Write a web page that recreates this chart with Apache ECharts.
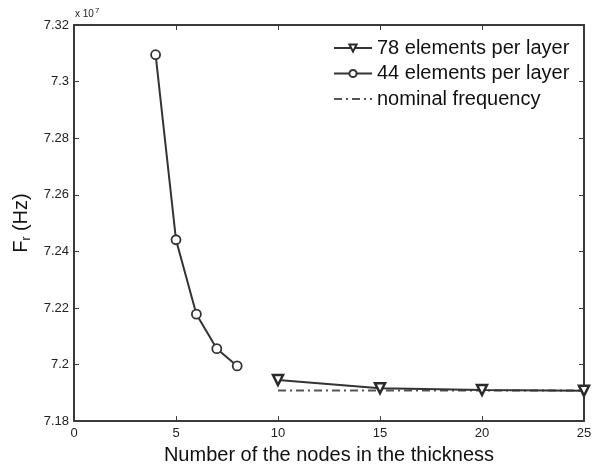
<!DOCTYPE html>
<html>
<head>
<meta charset="utf-8">
<script src="https://cdn.jsdelivr.net/npm/echarts@6/dist/echarts.min.js"></script>
<style>html,body{margin:0;padding:0;background:#fff}#c{width:601px;height:470px}</style>
</head>
<body>
<div id="c"></div>
<script>
// Values in Hz (axis shows them scaled by 1e7)
const nodes78 = [10, 15, 20, 25];
const freq78 = [71945000, 71916000, 71910000, 71907000];
const nodes44 = [4, 5, 6, 7, 8];
const freq44 = [73095000, 72441000, 72178000, 72056000, 71995000];
const nominalNodes = [10, 25];
const nominalFreq = [71908000, 71908000];
const seriesNames = ['78 elements per layer', '44 elements per layer', 'nominal frequency'];
const xTicks = [0, 5, 10, 15, 20, 25];
const yTicks = [7.18, 7.20, 7.22, 7.24, 7.26, 7.28, 7.30, 7.32];
const SCALE = 1e7;

const pair = (xs, ys) => xs.map((x, i) => [x, ys[i]]);
const fmtY = v => String(parseFloat((v / SCALE).toFixed(2)));

const FONT = 'Liberation Sans, Arial, sans-serif';
const AX = '#3a3a3a';
const lbl = { color: '#222', fontSize: 13, fontFamily: FONT };

const chart = echarts.init(document.getElementById('c'), null, { renderer: 'canvas' });
const xBase = { type: 'value', min: xTicks[0], max: xTicks[xTicks.length - 1], interval: 5,
  splitLine: { show: false },
  axisLine: { onZero: false, lineStyle: { color: AX, width: 2 } },
  axisTick: { inside: true, length: 5, lineStyle: { color: AX, width: 1 } } };
const yBase = { type: 'value', min: yTicks[0] * SCALE, max: yTicks[yTicks.length - 1] * SCALE, interval: 0.02 * SCALE,
  splitLine: { show: false },
  axisLine: { onZero: false, lineStyle: { color: AX, width: 2 } },
  axisTick: { inside: true, length: 5, lineStyle: { color: AX, width: 1 } } };

chart.setOption({
  animation: false,
  backgroundColor: '#fff',
  grid: { left: 74, right: 17, top: 25, bottom: 43, containLabel: false },
  xAxis: [
    Object.assign({}, xBase, { position: 'bottom',
      axisLabel: Object.assign({}, lbl, { margin: 6 }),
      name: 'Number of the nodes in the thickness', nameLocation: 'middle', nameGap: 22,
      nameTextStyle: { color: '#111', fontSize: 20, fontFamily: FONT } }),
    Object.assign({}, xBase, { position: 'top', axisLabel: { show: false } })
  ],
  yAxis: [
    Object.assign({}, yBase, { position: 'left',
      axisLabel: Object.assign({}, lbl, { margin: 5, formatter: fmtY }),
      name: '{a|F}{s|r}{a| (Hz)}', nameLocation: 'middle', nameGap: 40, nameRotate: 90,
      nameTextStyle: { color: '#111', fontFamily: FONT,
        rich: { a: { fontSize: 20, fontFamily: FONT, color: '#111' },
                s: { fontSize: 12, fontFamily: FONT, color: '#111', padding: [10, 0, 0, 0] } } } }),
    Object.assign({}, yBase, { position: 'right', axisLabel: { show: false } })
  ],
  legend: {
    orient: 'vertical', left: 328, top: 33, itemWidth: 38, itemHeight: 9, itemGap: 5.5,
    data: [
      { name: seriesNames[0] },
      { name: seriesNames[1] },
      { name: seriesNames[2], itemStyle: { opacity: 0 } }
    ],
    textStyle: { fontSize: 20, fontFamily: FONT, color: '#111', padding: [0, 0, 0, 0] },
    inactiveColor: '#ccc'
  },
  graphic: [{
    type: 'text', left: 75, top: 7,
    style: { text: '{b|x 10}{p|7}', rich: {
      b: { fontSize: 10, fontFamily: FONT, fill: '#222', padding: [6, 0, 0, 0] },
      p: { fontSize: 8, fontFamily: FONT, fill: '#222', padding: [0, 0, 0, 1] } } }
  }],
  series: [
    { name: seriesNames[0], type: 'line', data: pair(nodes78, freq78),
      symbol: 'triangle', symbolRotate: 180, symbolSize: 10,
      itemStyle: { color: '#fff', borderColor: '#2a2a2a', borderWidth: 2.5 },
      lineStyle: { color: '#333', width: 2 }, z: 3 },
    { name: seriesNames[1], type: 'line', data: pair(nodes44, freq44),
      symbol: 'circle', symbolSize: 9,
      itemStyle: { color: '#fff', borderColor: '#333', borderWidth: 1.8 },
      lineStyle: { color: '#333', width: 2 }, z: 3 },
    { name: seriesNames[2], type: 'line', data: pair(nominalNodes, nominalFreq),
      symbol: 'none', showSymbol: false,
      itemStyle: { color: '#555' },
      lineStyle: { color: '#555', width: 2, type: [8, 4, 2, 4] }, z: 2 }
  ]
});
</script>
</body>
</html>
